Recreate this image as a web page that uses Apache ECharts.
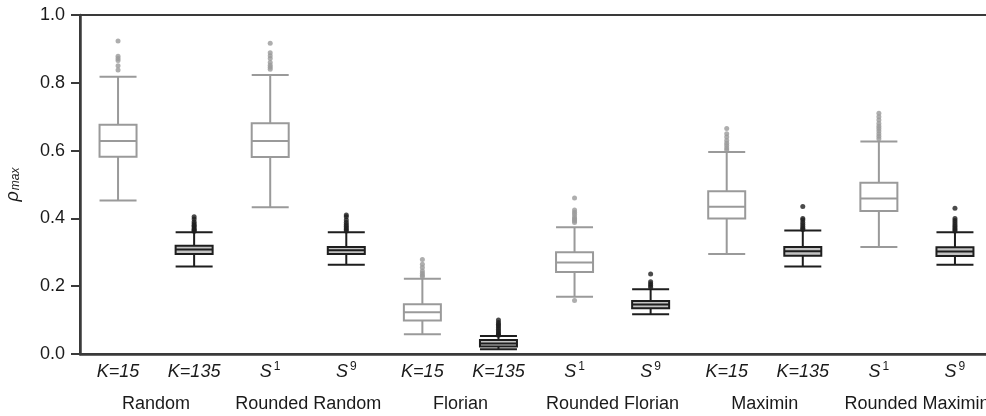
<!DOCTYPE html>
<html>
  <head>
    <meta charset="utf-8" />
    <title>rho max boxplot</title>
    <script src="https://cdn.jsdelivr.net/npm/echarts@6/dist/echarts.min.js"></script>
    <style>
      html, body { margin: 0; padding: 0; background: #fff; }
      #main { width: 986px; height: 416px; }
    </style>
  </head>
  <body>
    <div id="main"></div>
  </body>

  <script type="text/javascript">
    // tick labels (first row) and group names (second row)
    var subLabels = ["K=15", "K=135", "S^1", "S^9", "K=15", "K=135", "S^1", "S^9", "K=15", "K=135", "S^1", "S^9"];
    var groupNames = ["Random", "Rounded Random", "Florian", "Rounded Florian", "Maximin", "Rounded Maximin"];
    var yTicks = [0, 0.2, 0.4, 0.6, 0.8, 1.0];

    // [lower whisker, Q1, median, Q3, upper whisker]
    var randomK15 = [0.453, 0.582, 0.628, 0.676, 0.818];
    var randomK135 = [0.258, 0.295, 0.308, 0.319, 0.359];
    var roundedRandomS1 = [0.433, 0.581, 0.628, 0.681, 0.823];
    var roundedRandomS9 = [0.263, 0.295, 0.306, 0.316, 0.359];
    var florianK15 = [0.058, 0.099, 0.123, 0.147, 0.222];
    var florianK135 = [0.014, 0.022, 0.031, 0.041, 0.053];
    var roundedFlorianS1 = [0.169, 0.242, 0.270, 0.300, 0.374];
    var roundedFlorianS9 = [0.117, 0.135, 0.146, 0.156, 0.191];
    var maximinK15 = [0.295, 0.400, 0.434, 0.480, 0.596];
    var maximinK135 = [0.258, 0.290, 0.303, 0.316, 0.364];
    var roundedMaximinS1 = [0.316, 0.422, 0.459, 0.505, 0.627];
    var roundedMaximinS9 = [0.263, 0.289, 0.302, 0.315, 0.359];

    // outliers per box
    var outRandomK15 = [0.923, 0.878, 0.872, 0.866, 0.85, 0.838];
    var outRandomK135 = [0.405, 0.398, 0.39, 0.385, 0.38, 0.377, 0.372, 0.368, 0.365, 0.362];
    var outRoundedRandomS1 = [0.917, 0.889, 0.88, 0.872, 0.86, 0.852, 0.846, 0.84];
    var outRoundedRandomS9 = [0.41, 0.405, 0.395, 0.388, 0.382, 0.377, 0.372, 0.367, 0.363];
    var outFlorianK15 = [0.279, 0.265, 0.255, 0.245, 0.238, 0.232, 0.228];
    var outFlorianK135 = [0.1, 0.093, 0.088, 0.083, 0.078, 0.073, 0.068, 0.063, 0.058, 0.055];
    var outRoundedFlorianS1 = [0.46, 0.425, 0.418, 0.412, 0.405, 0.4, 0.396, 0.392, 0.388, 0.158];
    var outRoundedFlorianS9 = [0.236, 0.213, 0.207, 0.202, 0.197];
    var outMaximinK15 = [0.665, 0.65, 0.64, 0.63, 0.622, 0.615, 0.608, 0.602];
    var outMaximinK135 = [0.435, 0.4, 0.395, 0.388, 0.382, 0.376, 0.371, 0.367];
    var outRoundedMaximinS1 = [0.71, 0.7, 0.69, 0.68, 0.672, 0.665, 0.658, 0.65, 0.642, 0.635];
    var outRoundedMaximinS9 = [0.43, 0.4, 0.394, 0.388, 0.382, 0.377, 0.372, 0.367, 0.363];

    var boxes = [randomK15, randomK135, roundedRandomS1, roundedRandomS9, florianK15, florianK135,
      roundedFlorianS1, roundedFlorianS9, maximinK15, maximinK135, roundedMaximinS1, roundedMaximinS9];
    var outliers = [outRandomK15, outRandomK135, outRoundedRandomS1, outRoundedRandomS9, outFlorianK15, outFlorianK135,
      outRoundedFlorianS1, outRoundedFlorianS9, outMaximinK15, outMaximinK135, outRoundedMaximinS1, outRoundedMaximinS9];

    var LIGHT = "#9a9a9a";
    var DARK = "#1e1e1e";
    var FONT = "Liberation Sans";

    var chart = echarts.init(document.getElementById("main"));

    var boxData = boxes.map(function (b, i) {
      var dark = i % 2 === 1;
      return {
        value: b,
        itemStyle: {
          color: dark ? "#c4c4c4" : "#ffffff",
          borderColor: dark ? DARK : LIGHT,
          borderWidth: 2,
        },
      };
    });

    var lightPts = [];
    var darkPts = [];
    outliers.forEach(function (list, i) {
      list.forEach(function (v) {
        (i % 2 === 1 ? darkPts : lightPts).push([i, v]);
      });
    });

    option = {
      animation: false,
      backgroundColor: "#fff",
      textStyle: { fontFamily: FONT },
      grid: {
        left: 80,
        top: 15,
        width: 913,
        height: 339,
        containLabel: false,
        outerBoundsMode: "none",
        show: true,
        borderColor: "#3a3a3a",
        borderWidth: 2,
      },
      xAxis: [
        {
          type: "category",
          data: subLabels,
          axisLine: { lineStyle: { color: "#3a3a3a", width: 2.5 } },
          axisTick: { show: false },
          axisLabel: {
            margin: 7,
            interval: 0,
            color: "#1a1a1a",
            fontSize: 18,
            formatter: function (v) {
              var p = v.split("^");
              if (p.length > 1) return "{i|" + p[0] + "}{sup|" + p[1] + "}";
              return "{i|" + v + "}";
            },
            rich: {
              i: { fontSize: 18, lineHeight: 22, fontStyle: "italic", fontFamily: FONT, color: "#1a1a1a" },
              sup: { fontSize: 12, lineHeight: 12, verticalAlign: "top", fontFamily: FONT, color: "#1a1a1a", padding: [0, 0, 0, 2] },
            },
          },
        },
        {
          type: "category",
          data: groupNames,
          position: "bottom",
          axisLine: { show: false },
          axisTick: { show: false },
          axisLabel: { margin: 41, interval: 0, color: "#1a1a1a", fontSize: 18 },
        },
      ],
      yAxis: {
        type: "value",
        min: 0,
        max: 1,
        interval: 0.2,
        name: "{r|ρ}{s|max}",
        nameLocation: "middle",
        nameGap: 58,
        nameRotate: 90,
        nameTextStyle: {
          rich: {
            r: { fontSize: 18, fontStyle: "italic", fontFamily: FONT, color: "#1a1a1a" },
            s: { fontSize: 12, fontStyle: "italic", fontFamily: FONT, color: "#1a1a1a", padding: [5, 0, 0, 1] },
          },
        },
        axisLine: { show: true, lineStyle: { color: "#3a3a3a", width: 2.5 } },
        axisTick: { show: true, length: 9, lineStyle: { color: "#3a3a3a", width: 2 } },
        splitLine: { show: false },
        axisLabel: {
          margin: 15,
          color: "#1a1a1a",
          fontSize: 18,
          formatter: function (v) {
            return yTicks.indexOf(v) >= 0 ? v.toFixed(1) : "";
          },
        },
      },
      series: [
        {
          type: "boxplot",
          data: boxData,
          boxWidth: [37, 37],
          z: 2,
        },
        {
          type: "scatter",
          data: lightPts,
          symbolSize: 5,
          itemStyle: { color: LIGHT },
          z: 3,
        },
        {
          type: "scatter",
          data: darkPts,
          symbolSize: 5,
          itemStyle: { color: DARK },
          z: 3,
        },
      ],
    };

    chart.setOption(option);
  </script>
</html>
